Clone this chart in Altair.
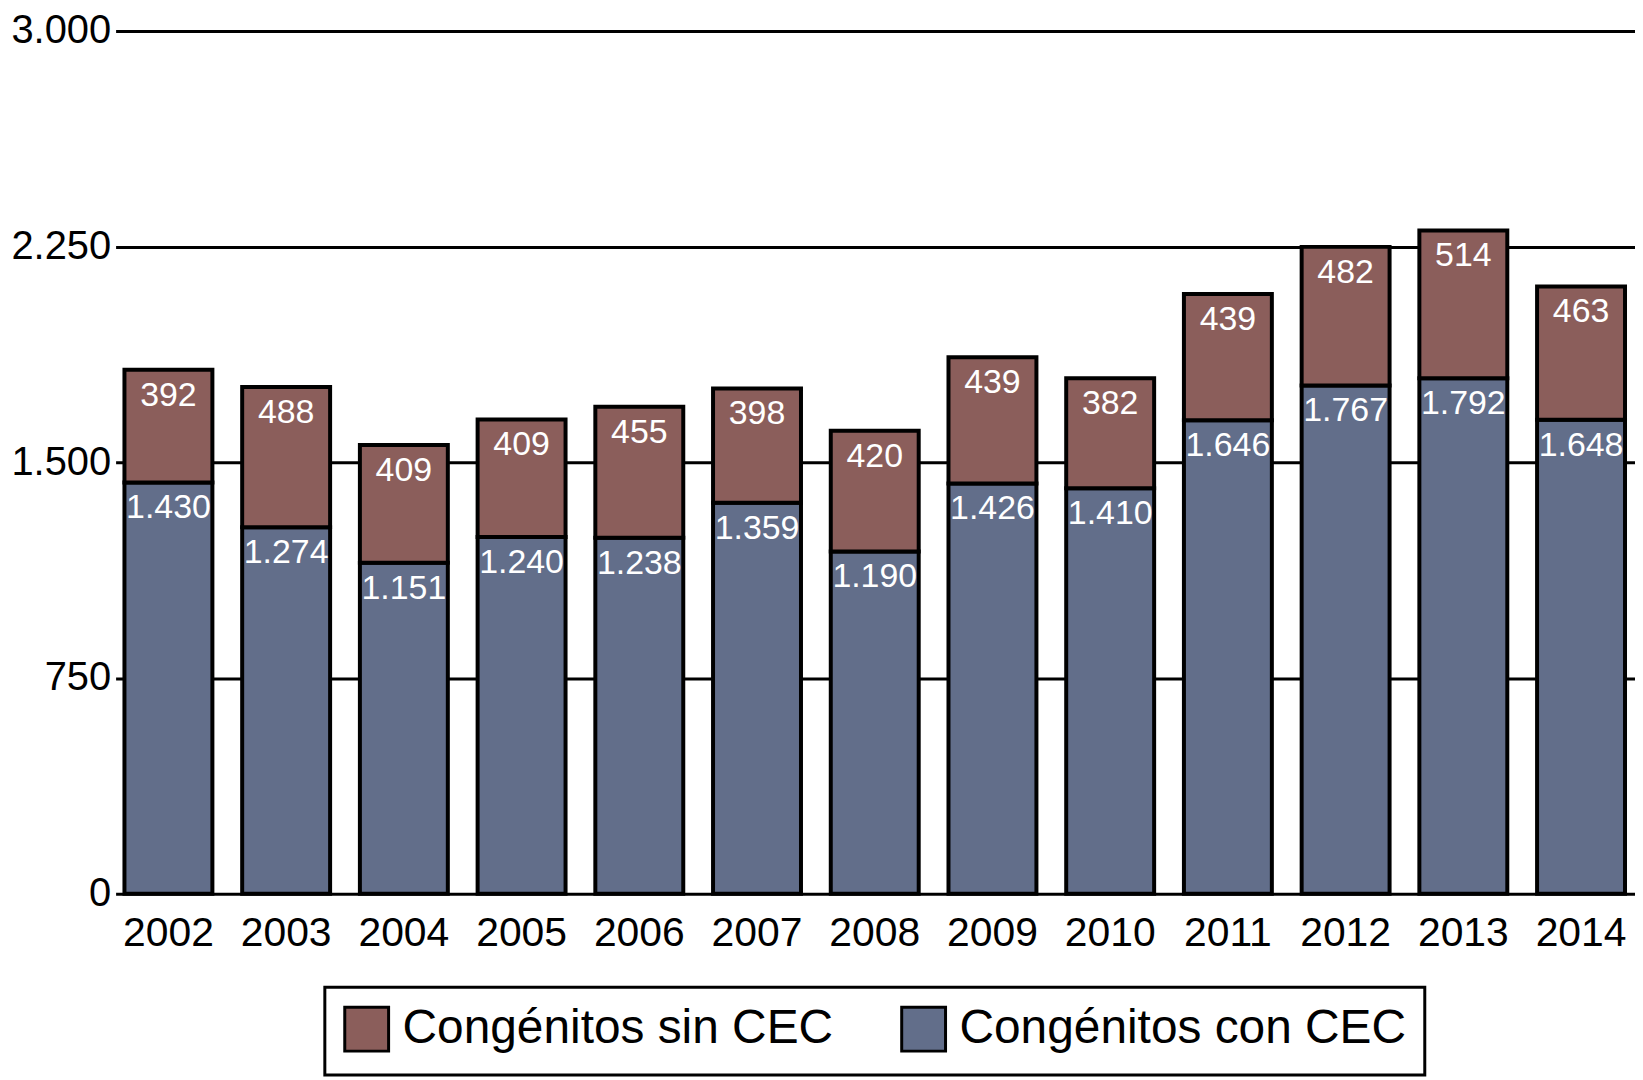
import altair as alt
import pandas as pd

years = ["2002", "2003", "2004", "2005", "2006", "2007", "2008",
         "2009", "2010", "2011", "2012", "2013", "2014"]
con_cec = [1430, 1274, 1151, 1240, 1238, 1359, 1190, 1426, 1410, 1646, 1767, 1792, 1648]
sin_cec = [392, 488, 409, 409, 455, 398, 420, 439, 382, 439, 482, 514, 463]
series = ["Congénitos sin CEC", "Congénitos con CEC"]
colors = ["#8B5E5B", "#626E8A"]
y_ticks = [0, 750, 1500, 2250, 3000]

rows = []
for i, yr in enumerate(years):
    rows.append({"year": yr, "serie": series[1], "value": con_cec[i], "orden": 0})
    rows.append({"year": yr, "serie": series[0], "value": sin_cec[i], "orden": 1})
df = pd.DataFrame(rows)

FONT = "Liberation Sans"
# thousands with a dot, as in the original
dotfmt = "replace(format(datum.value, ','), ',', '.')"

base = alt.Chart(df).transform_stack(
    stack="value",
    groupby=["year"],
    as_=["y0", "y1"],
    sort=[alt.SortField("orden", order="ascending")],
).transform_calculate(label=dotfmt)

bars = base.mark_bar(stroke="black", strokeWidth=4, opacity=1).encode(
    x=alt.X("year:N", title=None, sort=years,
            scale=alt.Scale(paddingInner=0.253, paddingOuter=0.08, align=0.47),
            axis=alt.Axis(labelAngle=0, ticks=False, domain=False, grid=False,
                          labelFontSize=41, labelPadding=20)),
    y=alt.Y("y1:Q", title=None,
            scale=alt.Scale(domain=[0, 3000], nice=False),
            axis=alt.Axis(values=y_ticks, labelExpr=dotfmt, ticks=False, domain=False,
                          grid=True, gridColor="black", gridWidth=3, gridOpacity=1,
                          labelFontSize=40, labelPadding=5)),
    y2="y0:Q",
    color=alt.Color("serie:N",
                    scale=alt.Scale(domain=series, range=colors),
                    legend=alt.Legend(title=None, orient="none", direction="horizontal",
                                      legendX=210, legendY=960,
                                      symbolType="square", symbolSize=1936,
                                      symbolStrokeColor="black", symbolStrokeWidth=3,
                                      symbolOpacity=1,
                                      labelFontSize=48, labelFont=FONT, labelColor="black",
                                      labelLimit=800, labelOffset=12,
                                      columnPadding=62, padding=18,
                                      strokeColor="black")),
)

texts = base.mark_text(color="white", fontSize=34, font=FONT, baseline="top", dy=9).encode(
    x=alt.X("year:N", sort=years),
    y="y1:Q",
    text="label:N",
)

chart = alt.layer(bars, texts).properties(
    width=1525,
    height=866,
    autosize=alt.AutoSizeParams(type="none"),
    padding={"left": 108, "top": 21, "right": 0, "bottom": 183},
).configure_view(
    stroke=None
).configure_axis(
    labelFont=FONT,
    labelColor="black",
).configure_legend(
    strokeWidth=3
)

chart.save("out.html", embed_options={"renderer": "svg", "actions": False})
